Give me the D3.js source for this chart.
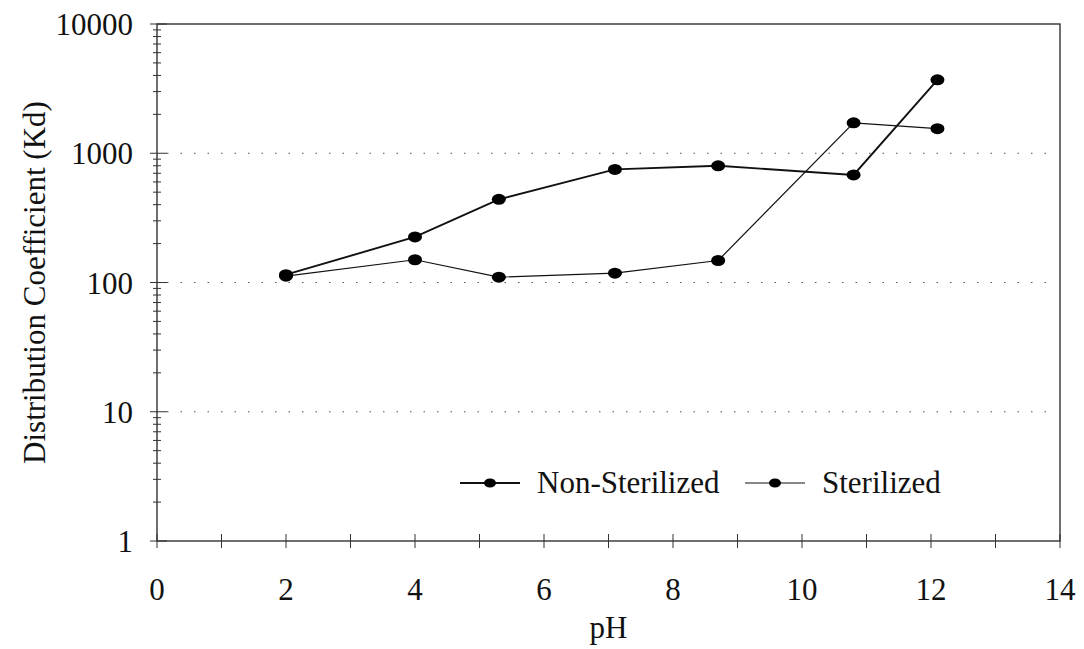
<!DOCTYPE html>
<html>
<head>
<meta charset="utf-8">
<script src="https://cdn.jsdelivr.net/npm/d3@7"></script>
<style>
  body { margin: 0; background: #fff; }
</style>
</head>
<body>
<svg id="chart" width="1084" height="649"></svg>
<script>
// pH values where the samples were measured
var phNonSterilized = [2, 4, 5.3, 7.1, 8.7, 10.8, 12.1];
var kdNonSterilized = [115, 225, 440, 750, 800, 680, 3700];
var phSterilized = [2, 4, 5.3, 7.1, 8.7, 10.8, 12.1];
var kdSterilized = [112, 150, 110, 118, 148, 1720, 1550];

var xTicks = [0, 2, 4, 6, 8, 10, 12, 14];
var yTicks = [1, 10, 100, 1000, 10000];

var serif = "'Liberation Serif', 'Times New Roman', 'DejaVu Serif', serif";

var svg = d3.select("#chart"),
    margin = {top: 24, right: 24, bottom: 108, left: 157},
    width = +svg.attr("width") - margin.left - margin.right,
    height = +svg.attr("height") - margin.top - margin.bottom;

var g = svg.append("g").attr("transform", "translate(" + margin.left + "," + margin.top + ")");

var x = d3.scaleLinear().domain([0, 14]).range([0, width]);
var y = d3.scaleLog().domain([1, 10000]).range([height, 0]);

function label(sel) {
  sel.style("font-family", serif).style("font-size", "31px").style("fill", "#111");
}

// dotted grid lines at each decade
g.selectAll(".grid")
  .data(yTicks.slice(1, -1))
  .enter().append("line")
  .attr("x1", 10).attr("x2", width - 10)
  .attr("y1", function(d) { return y(d); })
  .attr("y2", function(d) { return y(d); })
  .attr("stroke", "#555")
  .attr("stroke-width", 1.2)
  .attr("stroke-dasharray", "1.5,12");

// frame
g.append("rect")
  .attr("width", width).attr("height", height)
  .attr("fill", "none").attr("stroke", "#222").attr("stroke-width", 1.3);

// x axis ticks every unit, crossing the line
g.selectAll(".xtick")
  .data(d3.range(0, 15, 1))
  .enter().append("line")
  .attr("x1", function(d) { return x(d); })
  .attr("x2", function(d) { return x(d); })
  .attr("y1", height - 7).attr("y2", height + 7)
  .attr("stroke", "#333").attr("stroke-width", 1);

g.selectAll(".xlabel")
  .data(xTicks)
  .enter().append("text")
  .attr("x", function(d) { return x(d); })
  .attr("y", height + 59)
  .attr("text-anchor", "middle")
  .call(label)
  .text(function(d) { return d; });

// y axis with log minor ticks
var minor = [];
for (var p = 0; p < 4; p++) {
  for (var k = 2; k <= 9; k++) minor.push(k * Math.pow(10, p));
}
g.selectAll(".yminor")
  .data(minor)
  .enter().append("line")
  .attr("x1", -4).attr("x2", 4)
  .attr("y1", function(d) { return y(d); })
  .attr("y2", function(d) { return y(d); })
  .attr("stroke", "#333").attr("stroke-width", 1);
g.selectAll(".ymajor")
  .data(yTicks)
  .enter().append("line")
  .attr("x1", -7).attr("x2", 10)
  .attr("y1", function(d) { return y(d); })
  .attr("y2", function(d) { return y(d); })
  .attr("stroke", "#333").attr("stroke-width", 1);

g.selectAll(".ylabel")
  .data(yTicks)
  .enter().append("text")
  .attr("x", -24)
  .attr("y", function(d) { return y(d) + 11; })
  .attr("text-anchor", "end")
  .call(label)
  .text(function(d) { return d; });

// axis titles
svg.append("text")
  .attr("x", margin.left + x(7))
  .attr("y", 638)
  .attr("text-anchor", "middle")
  .call(label)
  .text("pH");

svg.append("text")
  .attr("transform", "translate(45," + (margin.top + height / 2) + ") rotate(-90)")
  .attr("text-anchor", "middle")
  .call(label)
  .text("Distribution Coefficient (Kd)");

// series
var series = [
  {name: "Non-Sterilized", ph: phNonSterilized, kd: kdNonSterilized, width: 1.9},
  {name: "Sterilized", ph: phSterilized, kd: kdSterilized, width: 1.2}
];

var line = d3.line()
  .x(function(d) { return x(d[0]); })
  .y(function(d) { return y(d[1]); });

series.forEach(function(s) {
  var pts = s.ph.map(function(v, i) { return [v, s.kd[i]]; });
  g.append("path")
    .datum(pts)
    .attr("d", line)
    .attr("fill", "none")
    .attr("stroke", "#111")
    .attr("stroke-width", s.width);
  g.selectAll(null)
    .data(pts)
    .enter().append("ellipse")
    .attr("cx", function(d) { return x(d[0]); })
    .attr("cy", function(d) { return y(d[1]); })
    .attr("rx", 7).attr("ry", 5.5)
    .attr("fill", "#000");
});

// legend
var legendX = [460, 745];
var legend = svg.selectAll(".legend")
  .data(series)
  .enter().append("g")
  .attr("transform", function(d, i) { return "translate(" + legendX[i] + ",483)"; });
legend.append("line")
  .attr("x1", 0).attr("x2", 60)
  .attr("stroke", "#111")
  .attr("stroke-width", function(d) { return d.width; });
legend.append("ellipse")
  .attr("cx", 30).attr("rx", 6).attr("ry", 4.5).attr("fill", "#000");
legend.append("text")
  .attr("x", 77).attr("y", 10)
  .call(label)
  .text(function(d) { return d.name; });
</script>
</body>
</html>
